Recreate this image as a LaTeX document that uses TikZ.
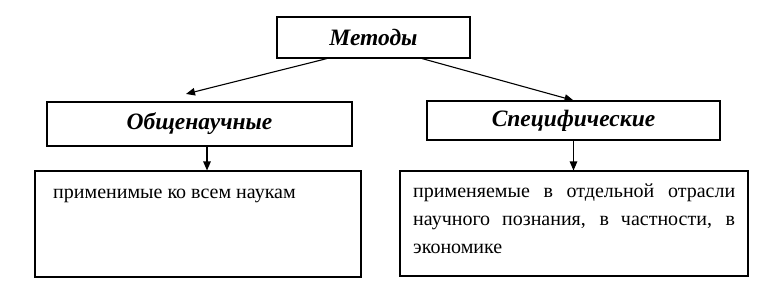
\documentclass[tikz,border=0pt]{standalone}
\usepackage{fontspec}
\setmainfont{Liberation Serif}
\usetikzlibrary{arrows.meta}
\tikzset{
  box/.style={draw, line width=1.1pt, inner sep=0pt},
  head/.style={font=\fontsize{23.5}{27}\selectfont\bfseries\itshape},
  body/.style={font=\fontsize{20}{28.3}\selectfont, inner sep=0pt},
  conn/.style={line width=1.1pt, -{Triangle[length=9pt,width=7.5pt]}}
}
\begin{document}
\begin{tikzpicture}[x=1pt,y=-1pt]
\useasboundingbox (0,0) rectangle (781,290);
\node[box, head, minimum width=193pt, minimum height=41pt] (m) at (373.5,37.5) {Методы};
\node[box, head, minimum width=305pt, minimum height=44pt] (o) at (199.5,124) {Общенаучные};
\node[box, head, minimum width=293pt, minimum height=39pt] (s) at (573.5,120.5) {Специфические};
\node[box, minimum width=326pt, minimum height=106pt] (l) at (198,224) {};
\node[box, minimum width=348pt, minimum height=105pt] (r) at (574,223.5) {};
\node[body, anchor=base west] (lt) at (53,198) {применимые ко всем наукам};
\node[body, anchor=base west] (rt) at (413,197.3) {\parbox[t]{322pt}{\fontsize{20}{28.3}\selectfont
\makebox[322pt][s]{применяемые в отдельной отрасли}\\
\makebox[322pt][s]{научного познания, в частности, в}\\
экономике}};
\draw[conn] ([xshift=-46.5pt]m.south) -- ([shift={(-13.5pt,7.5pt)}]o.north);
\draw[conn] ([xshift=48.5pt]m.south) -- (s.north);
\draw[conn] ([xshift=7.5pt]o.south) -- ([xshift=7.5pt]o.south |- l.north);
\draw[conn] (s.south) -- (s.south |- r.north);
\end{tikzpicture}
\end{document}
